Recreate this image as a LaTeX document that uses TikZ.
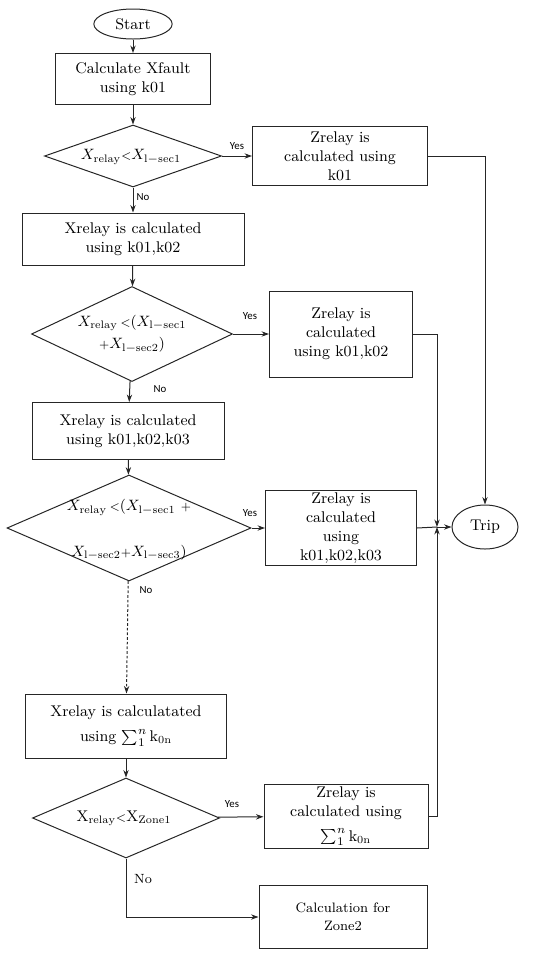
\documentclass[tikz,border=0pt]{standalone}
\usepackage{amsmath}
\usepackage{fontspec}
\newfontfamily\ynfont{Carlito}
\usetikzlibrary{positioning, shapes, arrows.meta}

\begin{document}
\begin{tikzpicture}[x=0.6pt, y=-0.6pt, line width=0.6pt,
          box/.style={draw=black!85, rectangle, align=center, inner sep=1pt, font=\fontsize{9.3}{11.4}\selectfont},
          dec/.style={draw=black!85, diamond, inner sep=0pt},
          term/.style={draw=black!85, ellipse, inner sep=0pt, font=\fontsize{9.3}{11.4}\selectfont},
          dectxt/.style={align=center, inner sep=0pt, font=\fontsize{9.3}{11.4}\selectfont},
          yn/.style={inner sep=0pt, font=\ynfont\fontsize{6.5}{7}\selectfont},
          arr/.style={draw=black!85, -{Stealth[length=4.5pt, width=3.2pt]}},
          lnk/.style={draw=black!85}]
          \useasboundingbox (0,0) rectangle (550,959);

          \node[term, minimum width=47pt, minimum height=18pt] (start) at (133,24) {Start};
          \node[box, minimum width=93pt, minimum height=30.6pt] (b1) at (133,79) {Calculate Xfault\\using k01};
          \node[dec, minimum width=106.2pt, minimum height=37.2pt] (d1) at (133,156) {};
          \node[dectxt] (d1t) at (131,157) {$X_{\mathrm{relay}}{\scriptstyle<}X_{\mathrm{l{-}sec1}}$};
          \node[box, minimum width=105pt, minimum height=35.4pt] (z1) at (340,156) {Zrelay is\\calculated using\\k01};

          \node[box, minimum width=133.2pt, minimum height=31.2pt] (b2) at (133,239) {Xrelay is calculated\\using k01,k02};
          \node[dec, minimum width=120.6pt, minimum height=57pt] (d2) at (132,334) {};
          \node[dectxt] (d2t) at (132,334) {$X_{\mathrm{relay}}\,{\scriptstyle<}(X_{\mathrm{l{-}sec1}}$\\[2pt]${\scriptstyle+}X_{\mathrm{l{-}sec2}})$};
          \node[box, minimum width=85.8pt, minimum height=51.6pt] (z2) at (341,334) {Zrelay is\\calculated\\using k01,k02};

          \node[box, minimum width=115.2pt, minimum height=34.2pt] (b3) at (128,431) {Xrelay is calculated\\using k01,k02,k03};
          \node[dec, minimum width=146.4pt, minimum height=63.6pt] (d3) at (129,528) {};
          \node[dectxt] (d3t) at (129,530) {$X_{\mathrm{relay}}\,{\scriptstyle<}(X_{\mathrm{l{-}sec1}}\ {\scriptstyle+}$\\[16pt]$X_{\mathrm{l{-}sec2}}{\scriptstyle+}X_{\mathrm{l{-}sec3}})$};
          \node[box, minimum width=90.6pt, minimum height=43.2pt] (z3) at (341,528) {Zrelay is\\calculated\\using\\k01,k02,k03};
          \node[term, minimum width=39.6pt, minimum height=26.4pt] (trip) at (485,527) {Trip};
          \coordinate (mg) at (437,527);

          \node[box, minimum width=120.6pt, minimum height=38.4pt] (b4) at (126,726) {Xrelay is calculatated\\[3.5pt]using $\sum\nolimits_1^n \mathrm{k_{0n}}$};
          \node[dec, minimum width=112.2pt, minimum height=48pt] (d4) at (126,818) {};
          \node[dectxt] (d4t) at (124,818) {$\mathrm{X_{relay}}{\scriptstyle<}\mathrm{X_{Zone1}}$};
          \node[box, minimum width=98.4pt, minimum height=38.4pt] (z4) at (346,816) {Zrelay is\\calculated using\\[3.5pt]$\sum\nolimits_1^n \mathrm{k_{0n}}$};
          \node[box, minimum width=100.8pt, minimum height=37.8pt, font=\fontsize{8.2}{11}\selectfont] (z5) at (343,917) {Calculation for\\Zone2};

          \draw[arr] (start) -- (b1);
          \draw[arr] (b1) -- (d1);
          \draw[arr] (d1) -- (z1);
          \draw[arr] (d1) -- (b2);
          \draw[arr] (b2) -- (d2);
          \draw[arr] (d2) -- (z2);
          \draw[arr] (d2) -- (b3);
          \draw[arr] (b3) -- (d3);
          \draw[arr] (d3) -- (z3);
          \draw[arr, dash pattern=on 1.6pt off 1.2pt] (d3) -- (b4);
          \draw[arr] (b4) -- (d4);
          \draw[arr] (d4) -- (z4);
          \draw[arr] (d4.south) |- (z5.west);

          \draw[arr] (z1.east) -| (trip.north);
          \draw[arr] (z2.east) -| (mg);
          \draw[arr] (z4.east) -| (mg);
          \draw[lnk] (z3.east) -- (mg);
          \draw[arr] (mg) -- (trip.west);

          \node[yn] (y1) at (237,146) {Yes};
          \node[yn] (n1) at (143,197) {No};
          \node[yn] (y2) at (250,316) {Yes};
          \node[yn] (n2) at (160,389) {No};
          \node[yn] (y3) at (250,513) {Yes};
          \node[yn] (n3) at (146,590) {No};
          \node[yn] (y4) at (232,804) {Yes};
          \node[inner sep=0pt, font=\fontsize{8}{9}\selectfont] (n4) at (143,879) {No};
        \end{tikzpicture}
\end{document}
